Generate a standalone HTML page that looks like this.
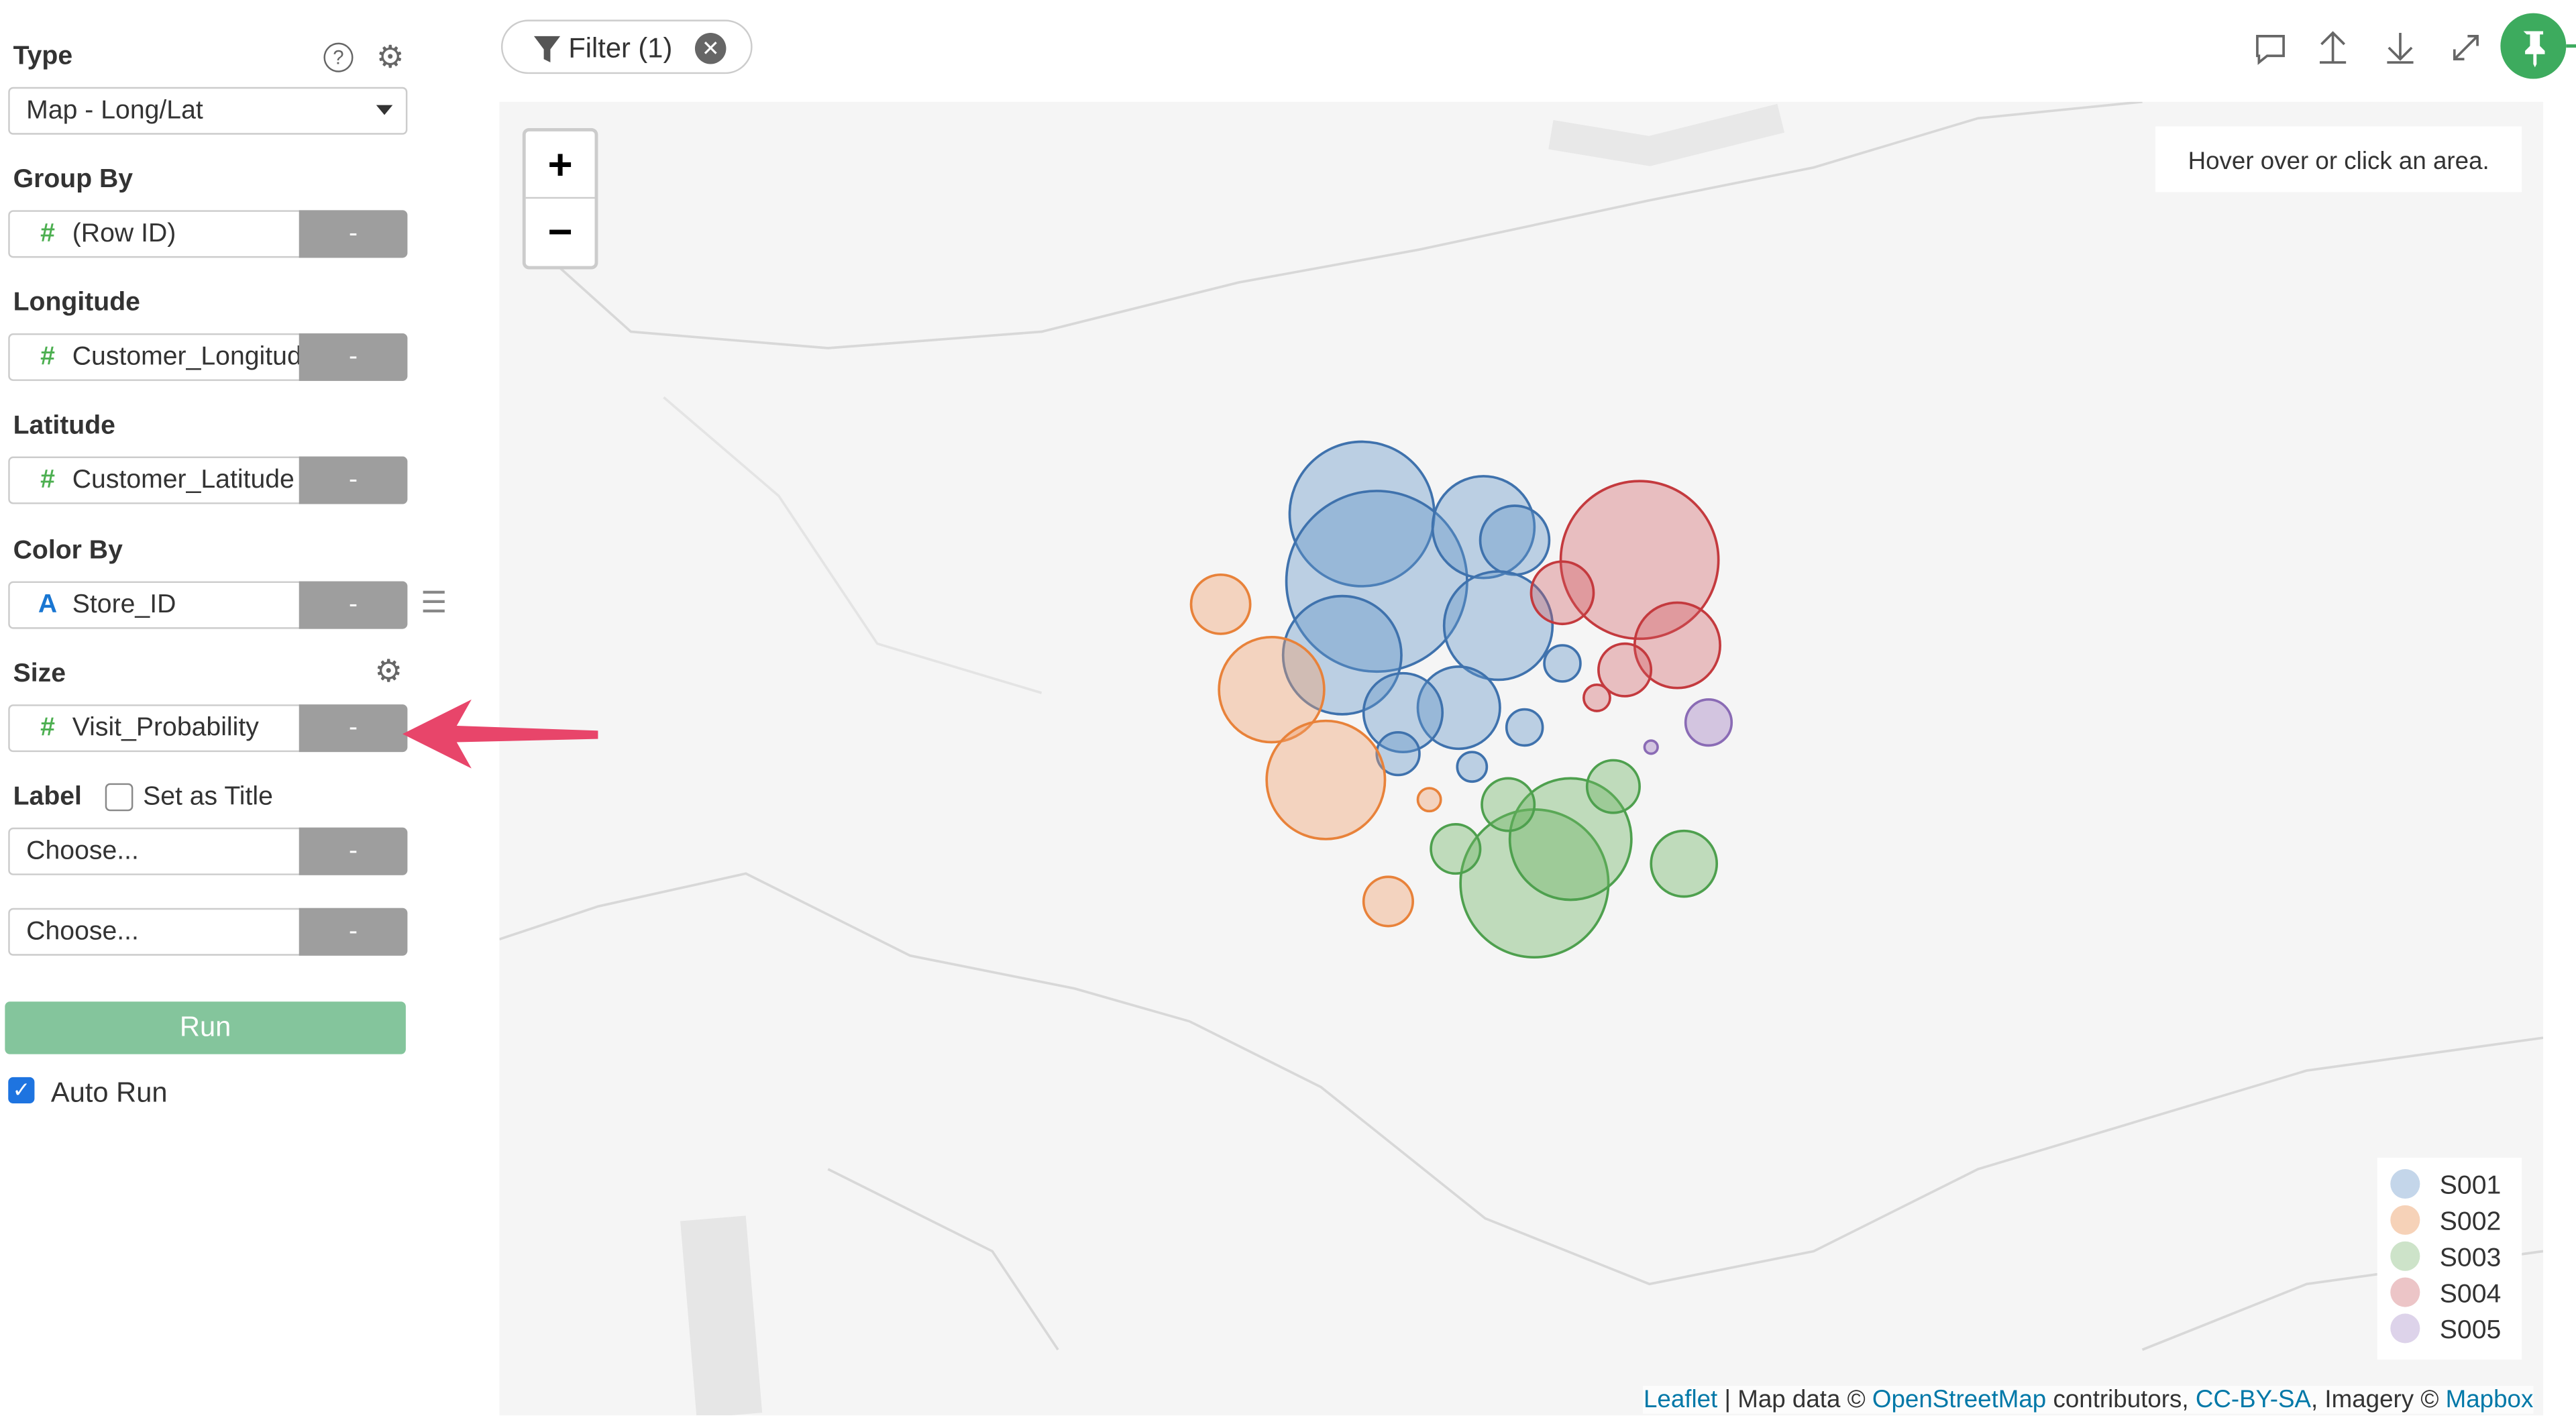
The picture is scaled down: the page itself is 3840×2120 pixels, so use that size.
<!DOCTYPE html>
<html><head><meta charset="utf-8"><style>
body{margin:0;width:3840px;height:2120px;overflow:hidden;background:#fff;font-family:"Liberation Sans",sans-serif;}
#w{position:absolute;left:0;top:0;width:1568px;height:866px;transform:scale(2.449,2.448);transform-origin:0 0;}
.lbl{position:absolute;left:8px;font-weight:bold;font-size:16px;color:#333;}
.inp{position:absolute;left:5px;width:243px;height:29px;border:1px solid #ccc;border-radius:3px;background:#fff;font-size:16px;color:#333;box-sizing:border-box;}
.inp .t{position:absolute;left:10px;top:5px;white-space:nowrap;overflow:hidden;width:166px;}
.inp .b{position:absolute;right:-1px;top:-1px;width:66px;height:29px;background:#9e9e9e;color:#fff;text-align:center;line-height:29px;border-radius:0 3px 3px 0;}
.h{color:#4caf50;font-weight:bold;display:inline-block;width:30px;text-align:center;margin-left:-2px}
.a{color:#1976d2;font-weight:bold;display:inline-block;width:30px;text-align:center;margin-left:-2px}
</style></head><body><div id="w">
<div class="lbl" style="top:26px">Type</div>
<div style="position:absolute;left:197px;top:26px;width:16px;height:16px;border:1.5px solid #666;border-radius:50%;font-size:12px;text-align:center;line-height:16px;color:#666">?</div>
<div style="position:absolute;left:229px;top:24px;font-size:19px;color:#666">⚙</div>
<div class="inp" style="top:53px"><span class="t">Map - Long/Lat</span><span style="position:absolute;right:8px;top:10px;border:5px solid transparent;border-top:6px solid #333"></span></div>
<div class="lbl" style="top:101px">Group By</div>
<div class="inp" style="top:128px"><span class="t"><span class="h">#</span>(Row ID)</span><span class="b">-</span></div>
<div class="lbl" style="top:176px">Longitude</div>
<div class="inp" style="top:203px"><span class="t"><span class="h">#</span>Customer_Longitude</span><span class="b">-</span></div>
<div class="lbl" style="top:251px">Latitude</div>
<div class="inp" style="top:278px"><span class="t"><span class="h">#</span>Customer_Latitude</span><span class="b">-</span></div>
<div class="lbl" style="top:327px">Color By</div>
<div class="inp" style="top:354px"><span class="t"><span class="a">A</span>Store_ID</span><span class="b">-</span></div>
<div style="position:absolute;left:256px;top:357px;font-size:18px;color:#888">☰</div>
<div class="lbl" style="top:402px">Size</div>
<div style="position:absolute;left:228px;top:398px;font-size:19px;color:#666">⚙</div>
<div class="inp" style="top:429px"><span class="t"><span class="h">#</span>Visit_Probability</span><span class="b">-</span></div>
<div class="lbl" style="top:477px">Label</div>
<div style="position:absolute;left:64px;top:477px;width:15px;height:15px;border:1px solid #888;border-radius:3px"></div>
<div style="position:absolute;left:87px;top:477px;font-size:16px;color:#333">Set as Title</div>
<div class="inp" style="top:504px"><span class="t">Choose...</span><span class="b">-</span></div>
<div class="inp" style="top:553px"><span class="t">Choose...</span><span class="b">-</span></div>
<div style="position:absolute;left:3px;top:610px;width:244px;height:32px;background:#84c59c;border-radius:3px;color:#fff;font-size:17px;text-align:center;line-height:32px">Run</div>
<div style="position:absolute;left:5px;top:656px;width:16px;height:16px;background:#1e74e0;border-radius:3px;color:#fff;font-size:13px;text-align:center;line-height:16px">✓</div>
<div style="position:absolute;left:31px;top:656px;font-size:17px;color:#333">Auto Run</div>

<div style="position:absolute;left:304px;top:62px;width:1244px;height:800px;background:#f5f5f5;overflow:hidden">
<svg width="1244" height="800" style="position:absolute;left:0;top:0" fill="none" stroke="#d8d8d8" stroke-width="1.5">
<path d="M30 95 L80 140 L200 150 L330 140 L450 110 L560 90 L700 60 L800 40 L900 10 L1000 0"/>
<path d="M0 510 L60 490 L150 470 L250 520 L350 540 L420 560 L500 600 L550 640 L600 680 L700 720 L800 700 L900 650 L1000 620 L1100 590 L1244 570"/>
<path d="M200 650 L300 700 L340 760" />
<path d="M1000 760 L1100 720 L1244 700"/>
<path d="M100 180 L170 240 L230 330 L330 360" stroke="#e4e4e4"/>
<path d="M640 20 L700 30 L780 10" stroke="#e8e8e8" stroke-width="18"/>
<path d="M130 680 L140 800" stroke="#e6e6e6" stroke-width="40"/>
</svg>
<div style="position:absolute;left:14px;top:16px;width:42px;height:82px;background:#fff;border:2px solid #ccc;border-radius:4px;font-size:26px;font-weight:bold;text-align:center">
<div style="height:40px;line-height:40px;border-bottom:1px solid #ccc">+</div><div style="line-height:40px">−</div></div>
<div style="position:absolute;left:1008px;top:15px;width:223px;height:40px;background:#fff;font-size:15px;color:#333;line-height:44px;text-align:center">Hover over or click an area.</div>
<div style="position:absolute;left:1143px;top:643px;width:88px;height:123px;background:#fff;font-size:16px;color:#333;line-height:22px;padding-top:7px;box-sizing:border-box">
<div><span style="display:inline-block;width:18px;height:18px;border-radius:50%;background:#c4d6ea;margin:0 12px 0 8px;vertical-align:-3px"></span>S001</div>
<div><span style="display:inline-block;width:18px;height:18px;border-radius:50%;background:#f6d2b8;margin:0 12px 0 8px;vertical-align:-3px"></span>S002</div>
<div><span style="display:inline-block;width:18px;height:18px;border-radius:50%;background:#cde3c9;margin:0 12px 0 8px;vertical-align:-3px"></span>S003</div>
<div><span style="display:inline-block;width:18px;height:18px;border-radius:50%;background:#ecc5c7;margin:0 12px 0 8px;vertical-align:-3px"></span>S004</div>
<div><span style="display:inline-block;width:18px;height:18px;border-radius:50%;background:#ddd3ea;margin:0 12px 0 8px;vertical-align:-3px"></span>S005</div>
</div>
<div style="position:absolute;right:6px;top:782px;font-size:15px;color:#333;background:rgba(255,255,255,.7)"><span style="color:#0078a8">Leaflet</span> | Map data © <span style="color:#0078a8">OpenStreetMap</span> contributors, <span style="color:#0078a8">CC-BY-SA</span>, Imagery © <span style="color:#0078a8">Mapbox</span></div>
</div>

<svg width="1568" height="866" style="position:absolute;left:0;top:0" stroke-width="1.5">
<g fill="rgba(100,150,200,0.4)" stroke="#3f72ad">
<circle cx="829" cy="313" r="44"/><circle cx="838" cy="354" r="55"/><circle cx="903" cy="321" r="31"/><circle cx="922" cy="329" r="21"/><circle cx="912" cy="381" r="33"/><circle cx="817" cy="399" r="36"/><circle cx="888" cy="431" r="25"/><circle cx="854" cy="434" r="24"/><circle cx="851" cy="459" r="13"/><circle cx="896" cy="467" r="9"/><circle cx="928" cy="443" r="11"/><circle cx="951" cy="404" r="11"/>
</g>
<g fill="rgba(240,160,110,0.4)" stroke="#e8823a">
<circle cx="743" cy="368" r="18"/><circle cx="774" cy="420" r="32"/><circle cx="807" cy="475" r="36"/><circle cx="870" cy="487" r="7"/><circle cx="845" cy="549" r="15"/>
</g>
<g fill="rgba(110,180,100,0.4)" stroke="#4ea04e">
<circle cx="934" cy="538" r="45"/><circle cx="956" cy="511" r="37"/><circle cx="918" cy="490" r="16"/><circle cx="886" cy="517" r="15"/><circle cx="982" cy="479" r="16"/><circle cx="1025" cy="526" r="20"/>
</g>
<g fill="rgba(210,90,95,0.35)" stroke="#c43a3e">
<circle cx="998" cy="341" r="48"/><circle cx="951" cy="361" r="19"/><circle cx="1021" cy="393" r="26"/><circle cx="989" cy="408" r="16"/><circle cx="972" cy="425" r="8"/>
</g>
<g fill="rgba(170,140,200,0.45)" stroke="#8a6bb5">
<circle cx="1040" cy="440" r="14"/><circle cx="1005" cy="455" r="4"/>
</g>
<path d="M245 447 L287 426 L278 442 L364 445 L364 450 L278 452 L287 468 Z" fill="#e8456a" stroke="none"/>
<g fill="none" stroke="#666" stroke-width="1.5">
<path d="M1374 22 h16 v12 h-10 l-5 4 v-4 h-1 z"/>
<path d="M1420 20 v18 M1413 27 l7-7 7 7 M1412 38 h16"/>
<path d="M1461 20 v16 M1454 29 l7 7 7-7 M1453 38 h16"/>
<path d="M1494 36 l14-14 M1494 30 v6 h6 M1502 22 h6 v6"/>
</g>
<circle cx="1542" cy="28" r="20" fill="#3dab5e"/>
<path d="M1536 19 h12 v2 h-2 v7 l3 3 v2 h-5 v6 l-1 2 l-1 -2 v-6 h-5 v-2 l3 -3 v-7 h-2 z" fill="#fff"/>
<path d="M1562 28 h6" stroke="#3dab5e" stroke-width="2"/>
</svg>
<div style="position:absolute;left:305px;top:12px;width:153px;height:33px;border:1px solid #ccc;border-radius:17px;font-size:17px;color:#333;line-height:33px;box-sizing:border-box">
<svg style="position:absolute;left:18px;top:8px" width="18" height="18"><path d="M1 1 h16 l-6 8 v8 l-4 -2 v-6 z" fill="#555"/></svg><span style="position:absolute;left:40px">Filter (1)</span>
<span style="position:absolute;left:117px;top:7px;width:19px;height:19px;border-radius:50%;background:#666;color:#fff;font-size:13px;line-height:19px;text-align:center">✕</span></div>
</div></body></html>
